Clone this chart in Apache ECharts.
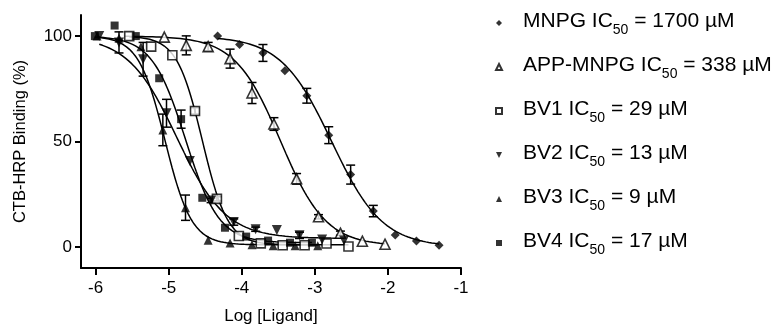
<!DOCTYPE html>
<html><head><meta charset="utf-8">
<script src="https://cdn.jsdelivr.net/npm/echarts@6/dist/echarts.min.js"></script>
<style>html,body{margin:0;padding:0;background:#fff}#c{width:773px;height:327px}</style>
</head><body><div id="c"></div>
<script>
// ---- data ----
const seriesNames = ['MNPG', 'APP-MNPG', 'BV1', 'BV2', 'BV3', 'BV4'];
const ic50Labels = ['1700', '338', '29', '13', '9', '17'];
const xTicks = [-6, -5, -4, -3, -2, -1];
const yTicks = [0, 50, 100];

const mnpgX = [-4.33, -4.03, -3.71, -3.41, -3.11, -2.81, -2.51, -2.20, -1.90, -1.61, -1.30];
const mnpgY = [100, 96, 92, 83.5, 71.7, 53, 34.3, 17, 5.7, 2.8, 0.8];
const mnpgE = [0, 0, 4, 0, 3.5, 4, 4.5, 2.7, 0, 0, 0];

const appX = [-5.06, -4.76, -4.46, -4.16, -3.86, -3.56, -3.25, -2.95, -2.65, -2.35, -2.04];
const appY = [99.5, 95.6, 95, 89.3, 73, 58.3, 32.3, 14.3, 6.5, 2.7, 1.3];
const appE = [0, 4.5, 2, 4.5, 5, 3, 2.5, 1, 1, 0, 0];

const bv1X = [-5.54, -5.24, -4.95, -4.64, -4.34, -4.04, -3.74, -3.44, -3.14, -2.84, -2.54];
const bv1Y = [100, 95, 90.9, 64.5, 22.8, 5.2, 1.7, 0.8, 0.8, 1.6, 0.2];
const bv1E = [0, 0, 0, 1.5, 1, 0, 0, 0, 0, 0, 0];

const bv2X = [-5.95, -5.68, -5.35, -5.03, -4.71, -4.42, -4.11, -3.81, -3.52, -3.21, -2.90, -2.60];
const bv2Y = [100, 97, 89, 63.4, 40.8, 22, 11.8, 8.4, 8, 5.5, 3.5, 3];
const bv2E = [0, 5, 8, 6.6, 0, 1, 1.5, 1, 0, 1.5, 0, 0];

const bv3X = [-5.98, -5.68, -5.38, -5.08, -4.77, -4.46, -4.16, -3.86, -3.57, -3.27, -2.96];
const bv3Y = [100, 99, 95, 55.5, 18.6, 3.2, 1.9, 1, 0.5, 0.5, 0.5];
const bv3E = [0, 0, 0, 7.5, 6, 0, 0, 0, 0, 0, 0];

const bv4X = [-6.01, -5.74, -5.45, -5.13, -4.83, -4.54, -4.23, -3.94, -3.64, -3.34, -3.04];
const bv4Y = [100, 105, 100, 80, 60.6, 23.3, 9.1, 4.9, 3, 2, 2];
const bv4E = [0, 0, 0, 0, 4.3, 0, 0, 0, 0, 0, 0];

// nonlinear-regression (sigmoidal dose-response) fit parameters per compound
const fitLogIC50 = [-2.77, -3.47, -4.54, -4.89, -5.05, -4.77];
const fitHill    = [1.25, 1.4, 2.5, 1.3, 2.4, 1.9];
const fitTop     = [100, 100, 100, 100, 100, 100];
const fitBottom  = [0, 0.5, 1, 4, 1, 2];
const fitStart   = [-4.33, -5.6, -5.54, -5.95, -5.98, -6.01];
const fitEnd     = [-1.30, -2.04, -2.54, -2.60, -2.96, -3.04];

// ---- build ----
const xs = [mnpgX, appX, bv1X, bv2X, bv3X, bv4X];
const ys = [mnpgY, appY, bv1Y, bv2Y, bv3Y, bv4Y];
const es = [mnpgE, appE, bv1E, bv2E, bv3E, bv4E];
const symbols = ['diamond', 'triangle', 'rect', 'triangle', 'triangle', 'rect'];
const legendIcons = ['diamond', 'triangle', 'rect', 'path://M0,0L10,0L5,10Z', 'triangle', 'rect'];
const rotates = [0, 0, 0, 180, 0, 0];
const sizes = [9, 10, 9, 10, 9, 8];
const hollow = [false, true, true, false, false, false];

function fitCurve(i) {
  const pts = [];
  const n = 150;
  for (let k = 0; k <= n; k++) {
    const x = fitStart[i] + (fitEnd[i] - fitStart[i]) * k / n;
    const y = fitBottom[i] + (fitTop[i] - fitBottom[i]) / (1 + Math.pow(10, (x - fitLogIC50[i]) * fitHill[i]));
    pts.push([x, y]);
  }
  return pts;
}

const series = [];
for (let i = 0; i < 6; i++) {
  series.push({
    type: 'line', name: seriesNames[i] + ' fit', data: fitCurve(i),
    showSymbol: false, symbol: 'none', silent: true,
    lineStyle: { color: '#000', width: 1.5 }, z: 2, animation: false
  });
}
for (let i = 0; i < 6; i++) {
  const ebData = [];
  xs[i].forEach((x, k) => { if (es[i][k] > 0) ebData.push([x, ys[i][k], es[i][k]]); });
  series.push({
    type: 'custom', name: seriesNames[i] + ' err', data: ebData, z: 3, silent: true, animation: false,
    renderItem: function (params, api) {
      const x = api.value(0), y = api.value(1), e = api.value(2);
      const t = api.coord([x, y + e]), b = api.coord([x, y - e]);
      const hw = 4.5, st = { stroke: '#000', lineWidth: 1.5 };
      return { type: 'group', children: [
        { type: 'line', shape: { x1: t[0], y1: t[1], x2: b[0], y2: b[1] }, style: st },
        { type: 'line', shape: { x1: t[0] - hw, y1: t[1], x2: t[0] + hw, y2: t[1] }, style: st },
        { type: 'line', shape: { x1: b[0] - hw, y1: b[1], x2: b[0] + hw, y2: b[1] }, style: st }
      ]};
    }
  });
}
for (let i = 0; i < 6; i++) {
  series.push({
    type: 'scatter', name: seriesNames[i],
    data: xs[i].map((x, k) => [x, ys[i][k]]),
    symbol: symbols[i], symbolRotate: rotates[i], symbolSize: sizes[i], z: 5, animation: false,
    itemStyle: hollow[i] ? { color: '#fff', borderColor: '#000', borderWidth: 1.6 } : { color: '#000', borderColor: '#000', borderWidth: 0 }
  });
}

const FONT = 'Liberation Sans, Arial, sans-serif';
const chart = echarts.init(document.getElementById('c'), null, { renderer: 'canvas' });
chart.setOption({
  animation: false,
  backgroundColor: '#fff',
  grid: { left: 81, right: 312, top: 15, bottom: 59, containLabel: false, outerBoundsMode: 'none' },
  xAxis: {
    type: 'value', min: -6.2, max: -1,
    name: 'Log [Ligand]', nameLocation: 'middle', nameGap: 40,
    nameTextStyle: { color: '#000', fontSize: 17, fontFamily: FONT },
    axisLine: { onZero: false, lineStyle: { color: '#000', width: 2 } },
    axisTick: { show: true, length: 7, lineStyle: { color: '#000', width: 2 }, customValues: xTicks },
    axisLabel: { color: '#000', fontSize: 17, fontFamily: FONT, margin: 12, customValues: xTicks },
    splitLine: { show: false }
  },
  yAxis: {
    type: 'value', min: -10, max: 110,
    name: 'CTB-HRP Binding (%)', nameLocation: 'middle', nameGap: 52, nameRotate: 90,
    nameTextStyle: { color: '#000', fontSize: 16.5, fontFamily: FONT },
    axisLine: { show: true, onZero: false, lineStyle: { color: '#000', width: 2 } },
    axisTick: { show: true, length: 6, lineStyle: { color: '#000', width: 2 }, customValues: yTicks },
    axisLabel: { color: '#000', fontSize: 17, fontFamily: FONT, margin: 9, customValues: yTicks },
    splitLine: { show: false }
  },
  legend: {
    data: seriesNames.map((n, i) => ({ name: n, icon: legendIcons[i] })),
    orient: 'vertical', left: 490, top: 6,
    itemWidth: 6, itemHeight: 6, itemGap: 18, selectedMode: false,
    formatter: function (name) {
      const i = seriesNames.indexOf(name);
      return '{p|' + name + ' IC}{s|50}{t| = ' + ic50Labels[i] + ' \u00b5M}';
    },
    textStyle: {
      color: '#000', fontFamily: FONT, fontSize: 21,
      rich: {
        p: { fontSize: 21, fontFamily: FONT, color: '#000', verticalAlign: 'top', lineHeight: 24, padding: [0, 0, 0, 16] },
        t: { fontSize: 21, fontFamily: FONT, color: '#000', verticalAlign: 'top', lineHeight: 24 },
        s: { fontSize: 14, fontFamily: FONT, color: '#000', verticalAlign: 'top', lineHeight: 14, padding: [12, 0, 0, 0] }
      }
    }
  },
  series: series
});
</script></body></html>
